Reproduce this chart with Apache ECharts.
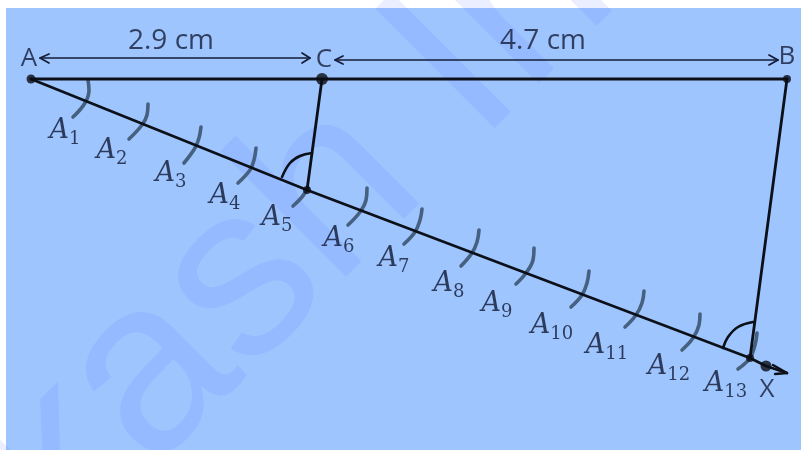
<!DOCTYPE html>
<html><head><meta charset="utf-8">
<style>html,body{margin:0;padding:0;background:#fff}#c{width:801px;height:450px}</style>
<script src="https://cdn.jsdelivr.net/npm/echarts@6/dist/echarts.min.js"></script>
</head><body><div id="c"></div>
<script>
const panel = [[6, 8], [801, 450]];
const watermarkText = 'kash In';
const watermarkAnchor = [296, 231];
const baseLine = [[31, 79], [787, 79]];
const rayLine = [[31, 79], [307, 190], [750, 358], [766, 366], [787, 373]];
const parallelCA5 = [[322, 79], [307, 190]];
const parallelBA13 = [[787, 79], [750, 358]];
const arrowHeadX = [[773, 365], [787, 373], [775, 374]];
const dots = [[31, 79, 9], [322, 79, 12], [787, 79, 8], [307, 190, 8], [750, 358, 8], [766, 366, 11]];
const arcLabels = ['1','2','3','4','5','6','7','8','9','10','11','12','13'];
const arcLabelPos = [[65,134],[112,154],[171,177],[225,199],[277,221],[339,242],[394,262],[449,287],[497,307],[552,329],[607,349],[669,370],[726,387]];
const compassArcs = [
  [[88,80],[89,90],[85,103],[73,117]],
  [[148,104],[147,115],[142,125],[129,139]],
  [[201,127],[199,138],[195,148],[184,163]],
  [[256,148],[254,160],[250,170],[238,183]],
  [[308,188],[302,197],[293,206]],
  [[367,188],[366,200],[360,212],[348,225]],
  [[422,209],[420,220],[415,232],[404,244]],
  [[479,230],[477,242],[472,253],[461,266]],
  [[534,248],[533,260],[526,273],[516,284]],
  [[589,271],[587,283],[582,295],[571,307]],
  [[644,291],[642,303],[636,315],[625,327]],
  [[700,314],[699,325],[693,338],[682,350]],
  [[757,333],[755,345],[750,358],[738,369]]
];
const angleArcs = [
  [[282,177],[290,163],[300,156],[312,153]],
  [[723,348],[728,337],[738,327],[753,322]]
];
const dimLines = [
  [[40,58],[310,58]],
  [[335,60],[778,60]]
];
const dimHeads = [
  [[49,54],[40,58],[49,63]],
  [[302,53],[310,58],[302,63]],
  [[343,56],[335,60],[343,64]],
  [[769,55],[778,60],[769,65]]
];
const dimTexts = [['2.9 cm', 171, 41], ['4.7 cm', 543, 41]];
const pointLetters = [['A', 29, 59], ['C', 324, 60], ['B', 787, 57], ['X', 767, 390]];

const ink = '#0c1018', arcInk = '#46607f', textInk = '#141d38', mathInk = '#0f1832';
const path = (data, color, width, smooth, z) => ({
  type: 'line', data, showSymbol: false, symbol: 'none', smooth: smooth ? 0.4 : false, silent: true, z, clip: false,
  lineStyle: { color, width, cap: 'round', join: 'round' }, animation: false
});
const series = [];
series.push({
  type: 'line', data: [], silent: true, z: 1, animation: false,
  markArea: { silent: true, itemStyle: { color: '#9FC5FF' }, data: [[{ coord: panel[0] }, { coord: panel[1] }]] }
});
series.push({
  type: 'scatter', data: [watermarkAnchor], symbolSize: 1, z: 2, silent: true, animation: false,
  itemStyle: { color: 'transparent' },
  label: { show: true, position: 'inside', formatter: watermarkText, rotate: 45, align: 'center', verticalAlign: 'middle',
    fontFamily: 'Liberation Sans', fontSize: 245, color: 'rgba(70,90,255,0.135)' }
});
compassArcs.forEach(a => series.push(path(a, arcInk, 3.6, true, 3)));
angleArcs.forEach(a => series.push(path(a, ink, 2.6, true, 4)));
series.push(path(baseLine, ink, 3, false, 5));
series.push(path(rayLine, ink, 2.7, false, 5));
series.push(path(parallelCA5, ink, 2.8, false, 5));
series.push(path(parallelBA13, ink, 2.8, false, 5));
series.push(path(arrowHeadX, ink, 2.4, false, 5));
dimLines.forEach(a => series.push(path(a, textInk, 1.7, false, 5)));
dimHeads.forEach(a => series.push(path(a, textInk, 1.7, false, 5)));
series.push({
  type: 'scatter', data: dots.map(d => [d[0], d[1]]), symbolSize: (v, p) => dots[p.dataIndex][2], z: 6, silent: true, animation: false,
  itemStyle: { color: '#0b0d14' }
});
const textSeries = (rows, fontSize) => ({
  type: 'scatter', data: rows.map(r => [r[1], r[2]]), symbolSize: 1, z: 7, silent: true, animation: false,
  itemStyle: { color: 'transparent' },
  label: { show: true, position: 'inside', align: 'center', verticalAlign: 'middle',
    formatter: p => rows[p.dataIndex][0], fontFamily: 'Open Sans', fontSize, color: textInk }
});
series.push(textSeries(dimTexts, 28));
series.push(textSeries(pointLetters, 26));
series.push({
  type: 'scatter', data: arcLabelPos, symbolSize: 1, z: 7, silent: true, animation: false,
  itemStyle: { color: 'transparent' },
  label: { show: true, position: 'inside', align: 'center', verticalAlign: 'middle',
    formatter: p => '{a|A}{s|' + arcLabels[p.dataIndex] + '}',
    rich: {
      a: { fontFamily: 'DejaVu Serif', fontStyle: 'italic', fontSize: 27, color: mathInk, padding: [0, 0, 7, 0] },
      s: { fontFamily: 'DejaVu Serif', fontSize: 18, color: mathInk, padding: [10, 0, 0, 0] }
    } }
});
const chart = echarts.init(document.getElementById('c'), null, { renderer: 'canvas' });
chart.setOption({
  animation: false,
  backgroundColor: '#ffffff',
  grid: { left: 0, right: 0, top: 0, bottom: 0 },
  xAxis: { type: 'value', min: 0, max: 801, show: false },
  yAxis: { type: 'value', min: 0, max: 450, inverse: true, show: false },
  tooltip: { show: false },
  series
});
</script></body></html>
